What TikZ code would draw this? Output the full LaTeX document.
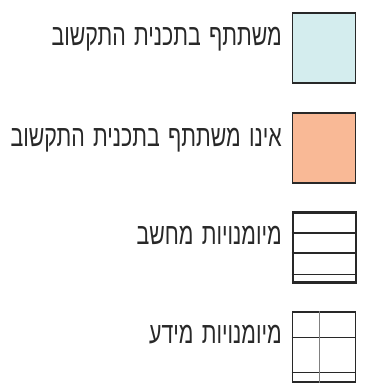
\documentclass[tikz,border=0pt]{standalone}
\usepackage{fontspec}
\TeXXeTstate=1
\newfontfamily\hebfont[Script=Hebrew,FakeStretch=0.71,WordSpace=1.4]{Liberation Sans}
\definecolor{partblue}{RGB}{212,237,238}
\definecolor{partorange}{RGB}{249,185,150}
\definecolor{edge}{RGB}{40,40,40}
\tikzset{
  legbox/.style={draw=edge, line width=1.6pt, minimum width=63pt, minimum height=70pt, inner sep=0pt, anchor=north west},
  leglabel/.style={anchor=base east, inner sep=0pt, font=\hebfont\fontsize{30}{30}\selectfont, text=edge},
  inner/.style={draw=edge, line width=1.4pt},
  thin/.style={draw=edge, line width=0.9pt}
}
\begin{document}
\begin{tikzpicture}[x=1pt,y=1pt]
\useasboundingbox (0,0) rectangle (364,385);
\node[legbox, fill=partblue] (b1) at (291.5,372.5) {};
\node[legbox, fill=partorange] (b2) at (291.5,272.5) {};
\node[legbox, fill=white, line width=2.2pt] (b3) at (291.5,173.5) {};
\node[legbox, fill=white] (b4) at (291.5,73.5) {};
\draw[inner] (b3.west |- 0,152) -- (b3.east |- 0,152);
\draw[inner] (b3.west |- 0,132) -- (b3.east |- 0,132);
\draw[inner] (b3.west |- 0,110.5) -- (b3.east |- 0,110.5);
\draw[thin] (b4.west |- 0,48) -- (b4.east |- 0,48);
\draw[thin] (b4.west |- 0,13) -- (b4.east |- 0,13);
\draw[thin, draw=gray] (319,0 |- b4.north) -- (319,0 |- b4.south);
\node[leglabel] (t1) at (282,339) {\beginR משתתף בתכנית התקשוב\endR};
\node[leglabel] (t2) at (282,238) {\beginR אינו משתתף בתכנית התקשוב\endR};
\node[leglabel] (t3) at (282,140) {\beginR מיומנויות מחשב\endR};
\node[leglabel] (t4) at (282,41) {\beginR מיומנויות מידע\endR};
\end{tikzpicture}
\end{document}
